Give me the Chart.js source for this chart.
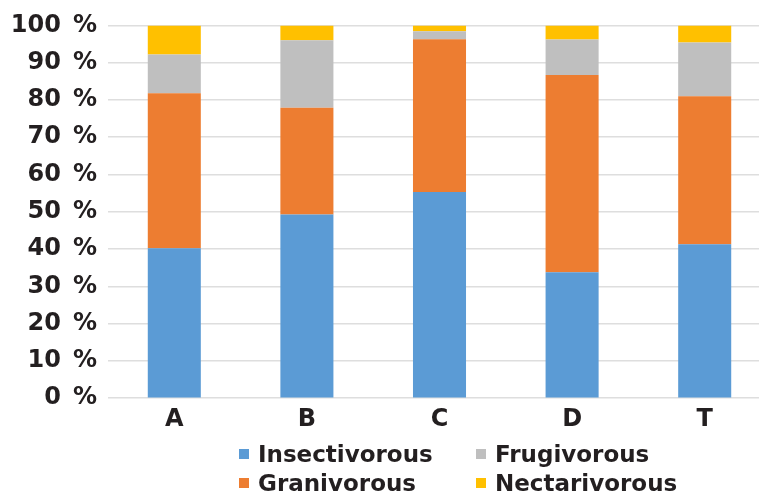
<!DOCTYPE html>
<html lang="en">
<head>
    <meta charset="UTF-8">
    <title>Feeding guilds by site</title>
    <script src="https://cdn.jsdelivr.net/npm/chart.js"></script>
    <style>
        body {
            margin: 0;
            background: #ffffff;
            overflow: hidden;
        }

        #wrap {
            position: relative;
            width: 771px;
            height: 494px;
        }

        #legend {
            position: absolute;
            left: 239px;
            top: 439px;
            display: grid;
            grid-template-columns: 237px 237px;
            grid-template-rows: 29px 29px;
            grid-auto-flow: column;
            font-family: "DejaVu Sans", sans-serif;
            font-weight: bold;
            font-size: 23px;
            color: #231f20;
        }

        .legend-item {
            display: flex;
            align-items: center;
        }

        .legend-box {
            width: 10px;
            height: 10px;
            margin-right: 9px;
        }
    </style>
</head>
<body>

<div id="wrap">
    <canvas id="guildChart"></canvas>
    <div id="legend"></div>
</div>

<script>
// Sites (x axis)
const sites = ['A', 'B', 'C', 'D', 'T'];

// Share of each feeding guild per site (%)
const insectivorous = [40.2, 49.3, 55.3, 33.8, 41.3];
const granivorous   = [41.6, 28.6, 41.0, 52.9, 39.7];
const frugivorous   = [10.4, 18.1, 2.1, 9.5, 14.4];
const nectarivorous = [7.8, 4.0, 1.6, 3.8, 4.6];

const guildNames = ['Insectivorous', 'Granivorous', 'Frugivorous', 'Nectarivorous'];
const guildColors = ['#5b9bd5', '#ed7d31', '#bfbfbf', '#ffc000'];
const guildValues = [insectivorous, granivorous, frugivorous, nectarivorous];

const textColor = '#231f20';
const tickFont = { family: 'DejaVu Sans', weight: 'bold', size: 24 };

const ctx = document.getElementById('guildChart').getContext('2d');
const chart = new Chart(ctx, {
    type: 'bar',
    data: {
        labels: sites,
        datasets: guildNames.map((name, i) => ({
            label: name,
            data: guildValues[i],
            backgroundColor: guildColors[i],
            borderWidth: 0,
            barPercentage: 0.4,
            categoryPercentage: 1.0
        }))
    },
    options: {
        responsive: true,
        maintainAspectRatio: false,
        animation: false,
        layout: {
            padding: { top: 9, left: 8, right: 0, bottom: 53 }
        },
        plugins: {
            legend: { display: false },
            tooltip: { enabled: false }
        },
        scales: {
            x: {
                stacked: true,
                grid: { display: false, drawTicks: false },
                border: { display: false },
                ticks: {
                    color: textColor,
                    font: tickFont,
                    padding: 7
                }
            },
            y: {
                stacked: true,
                min: 0,
                max: 100,
                afterFit: function (scale) {
                    scale.width = 100;
                },
                grid: {
                    color: '#dedede',
                    lineWidth: 1.5,
                    drawTicks: false
                },
                border: { display: false },
                ticks: {
                    stepSize: 10,
                    color: textColor,
                    font: tickFont,
                    padding: 11,
                    callback: function (value) {
                        return value + '\u2002%';
                    }
                }
            }
        }
    }
});

// Legend in two rows, filled column by column
const legendEl = document.getElementById('legend');
chart.data.datasets.forEach(ds => {
    const item = document.createElement('div');
    item.className = 'legend-item';
    item.innerHTML = `<span class="legend-box" style="background:${ds.backgroundColor}"></span><span>${ds.label}</span>`;
    legendEl.appendChild(item);
});
</script>
</body>
</html>
